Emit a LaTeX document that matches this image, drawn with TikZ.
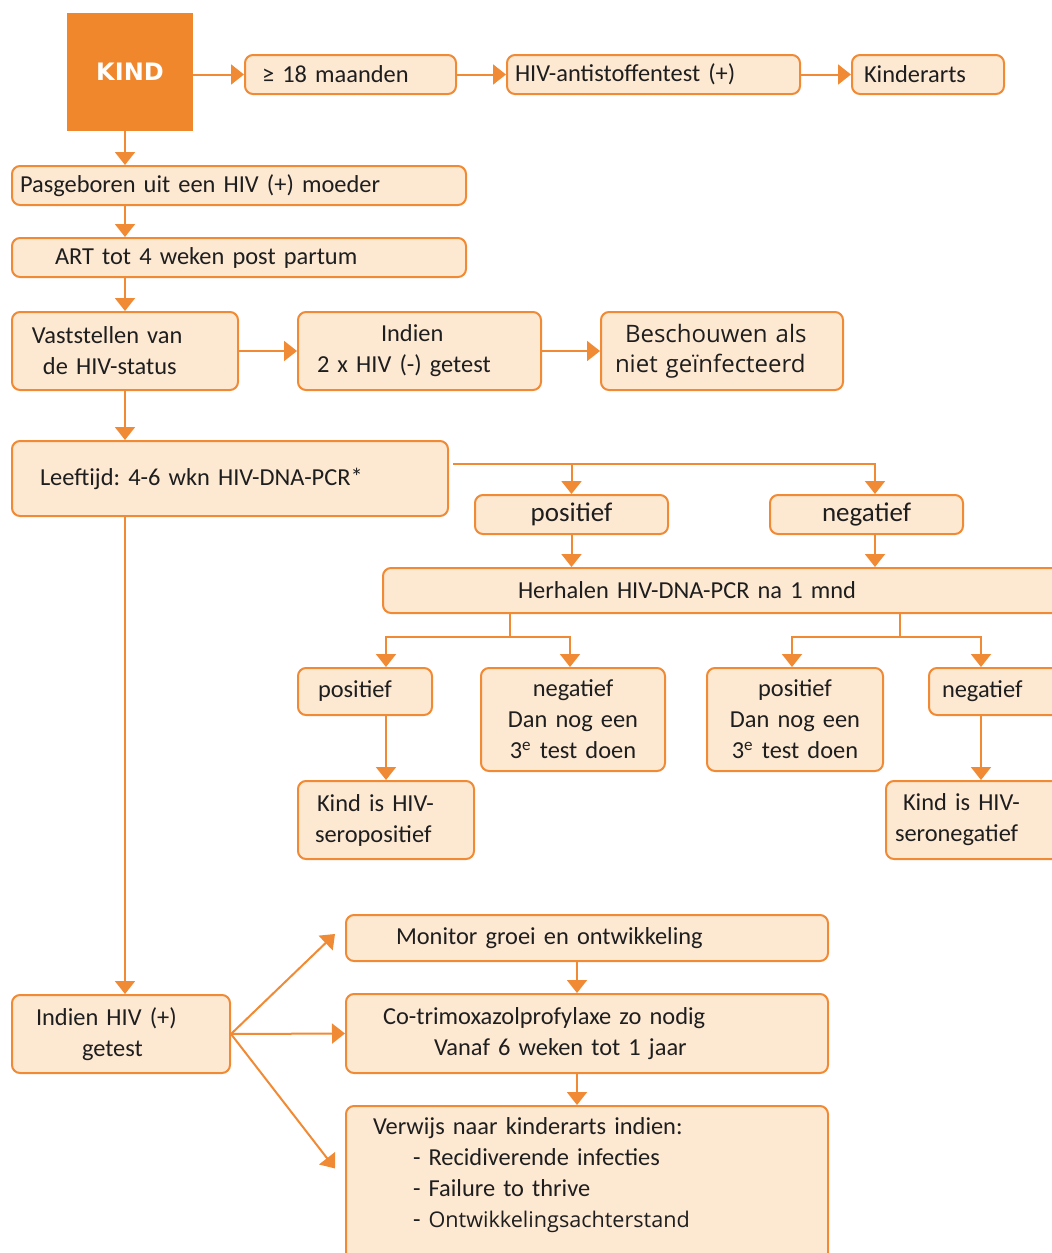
\documentclass[tikz,border=0pt]{standalone}
\usepackage{fontspec}
\setmainfont{Carlito}
\newfontfamily\opensans{Open Sans}
\newfontfamily\dejavu{DejaVu Sans}
\usepackage{tikz}
\usetikzlibrary{arrows.meta}
\frenchspacing
\definecolor{kindoranje}{HTML}{F0872D}
\definecolor{randoranje}{HTML}{F08A34}
\definecolor{vakvulling}{HTML}{FDE8D2}
\definecolor{tekstgrijs}{HTML}{1E1E1E}
\tikzset{
  startblok/.style={
    rectangle, fill=kindoranje, text=white,
    minimum width=63pt, minimum height=59pt,
    font=\dejavu\bfseries\fontsize{12}{14}\selectfont
  },
  stapvak/.style={
    rectangle, rounded corners=4pt, draw=randoranje, fill=vakvulling,
    line width=1pt, text=tekstgrijs, align=left, inner ysep=2pt,
    font=\fontsize{12.2}{15.5}\selectfont
  },
  pijl/.style={
    -{Triangle[length=6.5pt,width=10pt]}, line width=1pt, draw=randoranje
  },
  lijn/.style={
    line width=1pt, draw=randoranje
  },
}

\begin{document}
\begin{tikzpicture}[x=0.5pt,y=-0.5pt]
  \useasboundingbox (0,0) rectangle (1051,1253);

  % Bovenste rij
  \node[startblok] (kind) at (130,72) {KIND};
  \node[stapvak, minimum height=19.5pt, text width=88.5pt, inner xsep=8.5pt] (maanden) at (350.5,74.5) {≥ 18 maanden};
  \node[stapvak, minimum height=19.5pt, text width=138.5pt, inner xsep=4pt] (antistof) at (653.5,74.5) {HIV-antistoffentest (+)};
  \node[stapvak, minimum height=19.5pt, text width=64pt, inner xsep=6pt] (kinderarts) at (928,74.5) {Kinderarts};

  % Hoofdlijn
  \node[stapvak, minimum height=19.5pt, text width=219pt, inner xsep=4pt] (pasgeboren) at (239,185.5) {Pasgeboren uit een HIV (+) moeder};
  \node[stapvak, minimum height=19.5pt, text width=184pt, inner xsep=21.5pt] (art) at (239,257.5) {ART tot 4 weken post partum};
  \node[stapvak, minimum height=39pt, text width=93pt, inner xsep=10pt] (vaststellen) at (125,351) {Vaststellen van\\\hspace*{5.5pt}de HIV-status};
  \node[stapvak, minimum height=39pt, text width=102.5pt, inner xsep=9.5pt] (indientwee) at (419.5,351) {\hspace*{32pt}Indien\\2\,\,x HIV (-) getest};
  \node[stapvak, minimum height=39pt, text width=107pt, inner xsep=7pt,
        font=\opensans\fontsize{12}{15}\selectfont] (beschouwen) at (722,351) {\hspace*{5pt}Beschouwen als\\niet geïnfecteerd};
  \node[stapvak, minimum height=37.5pt, text width=190pt, inner xsep=14pt] (leeftijd) at (230,478.5) {Leeftijd: 4-6 wkn HIV-DNA-PCR*};

  % PCR-uitslagen
  \node[stapvak, minimum height=19.5pt, text width=88.5pt, inner xsep=4pt, align=center,
        font=\fontsize{13.5}{15.5}\selectfont] (positief) at (571.5,514.5) {positief};
  \node[stapvak, minimum height=19.5pt, text width=88.5pt, inner xsep=4pt, align=center,
        font=\fontsize{13.5}{15.5}\selectfont] (negatief) at (866.5,514.5) {negatief};
  \node[stapvak, minimum height=22.5pt, text width=208.5pt, inner xsep=67.5pt] (herhalen) at (726.5,590.5) {Herhalen HIV-DNA-PCR na 1 mnd};

  \node[stapvak, minimum height=23.5pt, text width=47pt, inner xsep=10pt] (posA) at (365,691.5) {positief};
  \node[stapvak, minimum height=51.5pt, text width=84pt, inner xsep=4pt, align=center] (negA) at (573,719.5) {negatief\\Dan nog een\\3\textsuperscript{e} test doen};
  \node[stapvak, minimum height=51.5pt, text width=80pt, inner xsep=4pt, align=center] (posB) at (795,719.5) {positief\\Dan nog een\\3\textsuperscript{e} test doen};
  \node[stapvak, minimum height=23.5pt, text width=52.5pt, inner xsep=6.5pt] (negB) at (994.5,691.5) {negatief};
  \node[stapvak, minimum height=39pt, text width=71pt, inner xsep=8.5pt] (seropos) at (386,820) {\hspace*{1pt}Kind is HIV-\\seropositief};
  \node[stapvak, minimum height=39pt, text width=78pt, inner xsep=4.5pt] (seroneg) at (973,820) {\hspace*{4pt}Kind is HIV-\\seronegatief};

  % Bij HIV (+)
  \node[stapvak, minimum height=39pt, text width=85pt, inner xsep=12pt] (indienpos) at (121,1034) {Indien HIV (+)\\\hspace*{23pt}getest};
  \node[stapvak, minimum height=23pt, text width=191pt, inner xsep=25pt] (monitor) at (587,938) {Monitor groei en ontwikkeling};
  \node[stapvak, minimum height=39.5pt, text width=204pt, inner xsep=18.5pt] (cotrim) at (587,1033.5) {Co-trimoxazolprofylaxe zo nodig\\\hspace*{25.5pt}Vanaf 6 weken tot 1 jaar};
  \node[stapvak, anchor=north, text width=214pt, inner xsep=13.5pt, inner ysep=6pt, text depth=60pt] (verwijs) at (587,1105)
    {Verwijs naar kinderarts indien:\\
     \hspace*{20pt}- Recidiverende infecties\\
     \hspace*{20pt}- Failure to thrive\\
     \hspace*{20pt}- {\opensans\fontsize{10.8}{15.5}\selectfont Ontwikkelingsachterstand}};

  % Splitspunten
  \coordinate (splitsing) at ([shift={(2pt,7.25pt)}]leeftijd.east);
  \coordinate (kolom) at (875,464);
  \coordinate (stamA) at (510,637);
  \coordinate (stamB) at (900,637);
  \coordinate (valA) at (386,637);
  \coordinate (valB) at (570,637);
  \coordinate (valC) at (792,637);
  \coordinate (valD) at (981,637);

  % Pijlen bovenste rij
  \draw[pijl] (kind.east |- maanden.west) -- (maanden.west);
  \draw[pijl] (maanden.east) -- (antistof.west);
  \draw[pijl] (antistof.east) -- (kinderarts.west);

  % Pijlen hoofdlijn
  \draw[pijl] (kind.south -| vaststellen) -- (pasgeboren.north -| vaststellen);
  \draw[pijl] (pasgeboren.south -| vaststellen) -- (art.north -| vaststellen);
  \draw[pijl] (art.south -| vaststellen) -- (vaststellen.north);
  \draw[pijl] (vaststellen.east) -- (indientwee.west);
  \draw[pijl] (indientwee.east) -- (beschouwen.west);
  \draw[pijl] (vaststellen.south) -- (leeftijd.north -| vaststellen);
  \draw[pijl] (leeftijd.south -| vaststellen) -- (indienpos.north -| vaststellen);

  % Vertakking PCR
  \draw[pijl] (splitsing) -- (kolom) -- (kolom |- negatief.north);
  \draw[pijl] (splitsing -| positief) -- (positief.north);
  \draw[pijl] (positief.south) -- (positief.south |- herhalen.north);
  \draw[pijl] (kolom |- negatief.south) -- (kolom |- herhalen.north);

  \draw[lijn] (stamA |- herhalen.south) -- (stamA);
  \draw[pijl] (stamA) -- (valA) -- (valA |- posA.north);
  \draw[pijl] (stamA) -- (valB) -- (valB |- negA.north);
  \draw[lijn] (stamB |- herhalen.south) -- (stamB);
  \draw[pijl] (stamB) -- (valC) -- (valC |- posB.north);
  \draw[pijl] (stamB) -- (valD) -- (valD |- negB.north);
  \draw[pijl] (valA |- posA.south) -- (valA |- seropos.north);
  \draw[pijl] (valD |- negB.south) -- (valD |- seroneg.north);

  % Behandeling
  \draw[pijl] (indienpos.east) -- ([shift={(-5pt,2pt)}]monitor.west);
  \draw[pijl] (indienpos.east) -- (cotrim.west);
  \draw[pijl] (indienpos.east) -- ([shift={(-5pt,9pt)}]verwijs.west);
  \draw[pijl] ([xshift=-5pt]monitor.south) -- ([xshift=-5pt]cotrim.north);
  \draw[pijl] ([xshift=-5pt]cotrim.south) -- ([xshift=-5pt]verwijs.north);
\end{tikzpicture}
\end{document}
